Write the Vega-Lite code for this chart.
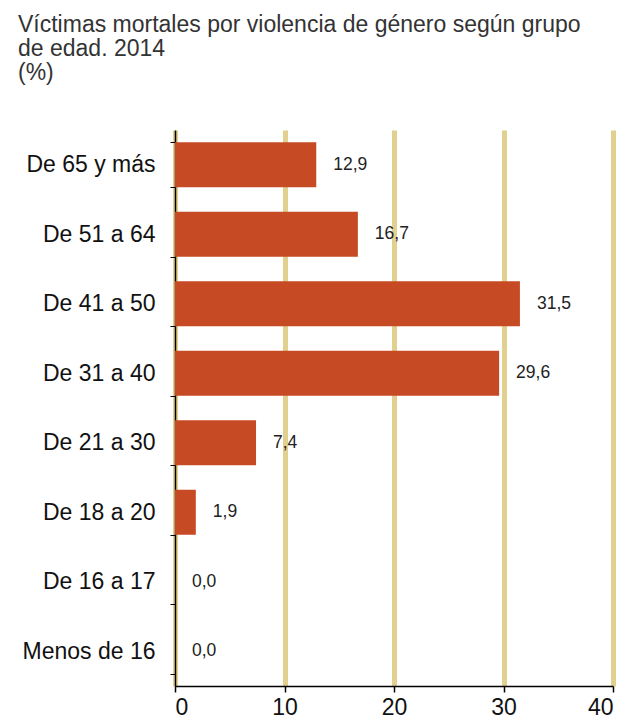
{
  "$schema": "https://vega.github.io/schema/vega-lite/v6.json",
  "autosize": {"type": "none"},
  "width": 438,
  "height": 556,
  "padding": {"left": 175, "top": 130, "right": 13, "bottom": 37},
  "background": "white",
  "config": {"view": {"stroke": null}, "font": "Liberation Sans"},
  "title": {
    "text": ["Víctimas mortales por  violencia de género según grupo", "de edad. 2014", "(%)"],
    "anchor": "start",
    "frame": "group",
    "dx": -157,
    "offset": 34,
    "fontSize": 23,
    "fontWeight": "normal",
    "color": "#333333",
    "lineHeight": 24,
    "font": "Liberation Sans"
  },
  "data": {
    "values": [
      {"grupo": "De 65 y más", "pct": 12.9, "label": "12,9"},
      {"grupo": "De 51 a 64", "pct": 16.7, "label": "16,7"},
      {"grupo": "De 41 a 50", "pct": 31.5, "label": "31,5"},
      {"grupo": "De 31 a 40", "pct": 29.6, "label": "29,6"},
      {"grupo": "De 21 a 30", "pct": 7.4, "label": "7,4"},
      {"grupo": "De 18 a 20", "pct": 1.9, "label": "1,9"},
      {"grupo": "De 16 a 17", "pct": 0.0, "label": "0,0"},
      {"grupo": "Menos de 16", "pct": 0.0, "label": "0,0"}
    ]
  },
  "encoding": {
    "y": {
      "field": "grupo",
      "type": "nominal",
      "sort": null,
      "scale": {"paddingInner": 0.35, "paddingOuter": 0.175},
      "axis": {
        "title": null,
        "domainColor": "#000000",
        "domainWidth": 1.5,
        "tickColor": "#000000",
        "tickSize": 5,
        "tickBand": "extent",
        "labelFontSize": 23,
        "labelColor": "#111111",
        "labelPadding": 15,
        "labelLimit": 200,
        "grid": false
      }
    },
    "x": {
      "field": "pct",
      "type": "quantitative",
      "scale": {"domain": [0, 40], "nice": false},
      "axis": {
        "title": null,
        "values": [0, 10, 20, 30, 40],
        "domainColor": "#000000",
        "domainWidth": 1.5,
        "tickColor": "#000000",
        "tickSize": 6,
        "tickWidth": 1.5,
        "labelFontSize": 23,
        "labelColor": "#111111",
        "labelPadding": 4,
        "grid": true,
        "gridColor": "#e2d08e",
        "gridWidth": 5,
        "zindex": 0
      }
    }
  },
  "layer": [
    {"mark": {"type": "bar", "color": "#c64a24"}},
    {
      "mark": {"type": "text", "align": "left", "dx": 17, "fontSize": 17.5, "color": "#222222"},
      "encoding": {"text": {"field": "label"}}
    }
  ]
}
